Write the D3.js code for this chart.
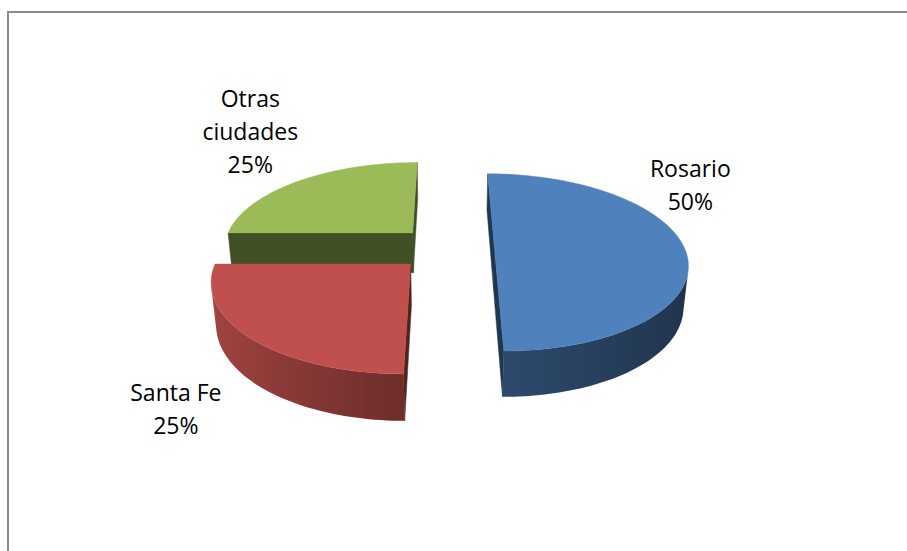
<!DOCTYPE html>
<html>
<head>
<meta charset="utf-8">
<script src="https://cdn.jsdelivr.net/npm/d3@7"></script>
<style>
  html, body { margin: 0; padding: 0; background: #fff; }
  svg { display: block; }
</style>
</head>
<body>
<div id="chart"></div>
<script>
// data
const categories = ["Rosario", "Santa Fe", "Otras ciudades"];
const values = [50, 25, 25];
const colors = ["#4F81BD", "#C0504D", "#9BBB59"];
// label placement in pie space: angle (deg, clockwise from 12 o'clock) and radius
const labelAngles = [55.5, 216, 323.5];
const labelRadii = [1.46, 1.55, 1.91];

const width = 907, height = 551;

// 3d view settings
const tilt = 27 * Math.PI / 180;
const sT = Math.sin(tilt), cT = Math.cos(tilt);
const D = 5.5, F = 1045, cx = 446, cy = 248;
const explode = 0.255, depth = 0.245;
const cam = [0, D * sT, -D * cT];

function project(X, Y, Z) {
    const yp = Y * cT + Z * sT;
    const zc = Z * cT - Y * sT;
    const s = F / (D + zc);
    return [cx + X * s, cy - yp * s];
}

function facing(n, p) {
    return n[0] * (cam[0] - p[0]) + n[1] * (cam[1] - p[1]) + n[2] * (cam[2] - p[2]) > 0;
}

function shade(color, f) {
    return d3.interpolateRgb("#000", color)(f);
}

const svg = d3.select("#chart").append("svg")
    .attr("width", width)
    .attr("height", height);
const defs = svg.append("defs");

// frame
svg.append("path")
    .attr("d", `M8,${height} V12 H${width}`)
    .attr("fill", "none")
    .attr("stroke", "#8a8a8a")
    .attr("stroke-width", 2);

const total = d3.sum(values);
const pie = d3.pie().sort(null).value(d => d)(values);
const line = d3.line();

const slices = pie.map((p, i) => {
    const mid = (p.startAngle + p.endAngle) / 2;
    return {
        i, a0: p.startAngle, a1: p.endAngle,
        ox: explode * Math.sin(mid), oz: explode * Math.cos(mid)
    };
});

// far slices first
slices.sort((a, b) => b.oz - a.oz);

const g = svg.append("g");

slices.forEach(s => {
    const col = colors[s.i];
    const grp = g.append("g");
    const n = Math.max(8, Math.round((s.a1 - s.a0) / (Math.PI / 2) * 60));
    const angles = d3.range(n + 1).map(k => s.a0 + (s.a1 - s.a0) * k / n);
    const pt = (a, Y) => [s.ox + Math.sin(a), Y, s.oz + Math.cos(a)];
    const ctr = Y => [s.ox, Y, s.oz];
    const P = q => project(q[0], q[1], q[2]);

    // cut faces
    [[s.a0, [-Math.cos(s.a0), 0, Math.sin(s.a0)]], [s.a1, [Math.cos(s.a1), 0, -Math.sin(s.a1)]]].forEach(([a, nrm]) => {
        const mp = [s.ox + Math.sin(a) / 2, -depth / 2, s.oz + Math.cos(a) / 2];
        if (!facing(nrm, mp)) return;
        const pts = [ctr(0), pt(a, 0), pt(a, -depth), ctr(-depth)].map(P);
        grp.append("path")
            .attr("d", line(pts) + "Z")
            .attr("fill", shade(col, 0.42))
            .attr("stroke", shade(col, 0.42))
            .attr("stroke-width", 0.5);
    });

    // outer curved side, visible part only, one path with a horizontal gradient
    const vis = angles.filter(a => facing([Math.sin(a), 0, Math.cos(a)], pt(a, -depth / 2)));
    if (vis.length > 1) {
        const topPts = vis.map(a => P(pt(a, 0)));
        const botPts = vis.map(a => P(pt(a, -depth))).reverse();
        const xs = topPts.map(p => p[0]);
        const x0 = d3.min(xs), x1 = d3.max(xs);
        const gid = "side" + s.i;
        const grad = defs.append("linearGradient")
            .attr("id", gid)
            .attr("gradientUnits", "userSpaceOnUse")
            .attr("x1", x0).attr("x2", x1)
            .attr("y1", 0).attr("y2", 0);
        const stops = vis.map((a, k) => {
            const nx = Math.sin(a);
            const f = nx < 0 ? 0.57 - 0.29 * nx : 0.57 - 0.18 * nx;
            return { o: (xs[k] - x0) / (x1 - x0 || 1), c: shade(col, f) };
        }).sort((p, q) => p.o - q.o);
        grad.selectAll("stop").data(stops).join("stop")
            .attr("offset", d => d.o)
            .attr("stop-color", d => d.c);
        grp.append("path")
            .attr("d", line(topPts.concat(botPts)) + "Z")
            .attr("fill", `url(#${gid})`);
    }

    // top face
    const top = [ctr(0)].concat(angles.map(a => pt(a, 0))).map(P);
    grp.append("path")
        .attr("d", line(top) + "Z")
        .attr("fill", col)
        .attr("stroke", col)
        .attr("stroke-width", 0.4);
});

// labels
const lineH = 33;
slices.forEach(s => {
    const a = labelAngles[s.i] * Math.PI / 180, r = labelRadii[s.i];
    const [lx, ly] = project(s.ox + r * Math.sin(a), 0, s.oz + r * Math.cos(a));
    const name = categories[s.i];
    const lines = name.length > 10 ? name.split(" ") : [name];
    lines.push(Math.round(values[s.i] / total * 100) + "%");
    const t = svg.append("text")
        .attr("text-anchor", "middle")
        .style("font-family", "'Open Sans'")
        .style("font-size", "23px")
        .style("fill", "#000");
    lines.forEach((txt, j) => {
        t.append("tspan")
            .attr("x", lx)
            .attr("y", ly + (j - (lines.length - 1) / 2) * lineH + 8)
            .text(txt);
    });
});
</script>
</body>
</html>
